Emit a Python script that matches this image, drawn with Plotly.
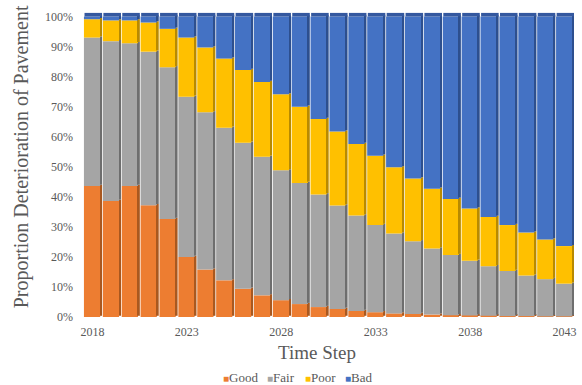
import plotly.graph_objects as go

years = list(range(2018, 2044))
good = [43.6, 38.6, 43.6, 37.2, 32.6, 20.0, 15.8, 12.2, 9.4, 7.2, 5.6, 4.3, 3.3,
        2.7, 2.0, 1.6, 1.2, 1.0, 0.8, 0.6, 0.5, 0.4, 0.3, 0.3, 0.2, 0.2]
fair = [49.4, 53.2, 47.5, 51.1, 50.5, 53.3, 52.3, 50.8, 48.6, 46.1, 43.2, 40.3, 37.5,
        34.4, 31.8, 29.0, 26.6, 24.2, 22.0, 20.0, 18.2, 16.5, 15.0, 13.5, 12.4, 10.9]
poor = [6.1, 6.9, 7.6, 9.7, 12.8, 19.7, 21.6, 23.0, 24.2, 24.9, 25.3, 25.4, 25.1,
        24.6, 23.8, 23.1, 22.0, 20.9, 19.9, 18.7, 17.4, 16.4, 15.3, 14.3, 13.2, 12.5]
bad = [0.9, 1.3, 1.3, 2.0, 4.1, 7.0, 10.3, 14.0, 17.8, 21.8, 25.9, 30.0, 34.1,
       38.3, 42.4, 46.3, 50.2, 53.9, 57.3, 60.7, 63.9, 66.7, 69.4, 71.9, 74.2, 76.4]

series_names = ["Good", "Fair", "Poor", "Bad"]
series_vals = [good, fair, poor, bad]
front_colors = ["#ED7D31", "#A5A5A5", "#FFC000", "#4472C4"]
side_colors = ["#A9581F", "#6E6E6E", "#B88A00", "#2D4F8E"]

fig = go.Figure()
base = [0.0] * len(years)
for name, vals, fc, sc in zip(series_names, series_vals, front_colors, side_colors):
    y = [v / 100 for v in vals]
    b = [v / 100 for v in base]
    fig.add_trace(go.Bar(x=years, y=y, base=b, name=name, marker_color=fc,
                         marker_line_width=0, offset=-0.45, width=0.86,
                         showlegend=False, hoverinfo="skip"))
    fig.add_trace(go.Bar(x=years, y=y, base=[bb + 0.004 for bb in b], name=name + " side",
                         marker_color=sc, marker_line_width=0, offset=0.41, width=0.1,
                         showlegend=False, hoverinfo="skip"))
    base = [a + v for a, v in zip(base, vals)]

# top faces of the 3D columns
fig.add_trace(go.Bar(x=years, y=[0.012] * len(years), base=[b / 100 for b in base],
                     marker_color="#34589F", marker_line_width=0, offset=-0.42, width=0.93,
                     showlegend=False, hoverinfo="skip"))

font_family = "Liberation Serif, Times New Roman, serif"
fig.update_layout(
    barmode="overlay",
    width=582, height=385,
    margin=dict(l=83, r=5, t=12, b=68),
    paper_bgcolor="white", plot_bgcolor="white",
    font=dict(family=font_family, color="#595959", size=12),
    xaxis=dict(range=[2017.5, 2043.5], tickvals=[2018, 2023, 2028, 2033, 2038, 2043],
               showgrid=False, zeroline=False, showline=False, ticks="",
               ticklabelstandoff=6, tickfont=dict(size=12, color="#595959")),
    yaxis=dict(range=[0, 1.015], tickvals=[i / 10 for i in range(11)], tickformat=".0%",
               showgrid=False, zeroline=False, showline=False, ticks="",
               ticklabelstandoff=9, tickfont=dict(size=12, color="#595959")),
    showlegend=False,
)

fig.add_annotation(text="Proportion Deterioration of Pavement", xref="paper", yref="paper",
                   x=-0.1255, y=0.525, textangle=-90, showarrow=False,
                   font=dict(size=20, color="#595959"), xanchor="center", yanchor="middle")

fig.add_annotation(text="Time Step", xref="paper", yref="paper", x=0.476, y=-0.115,
                   showarrow=False, font=dict(size=19, color="#595959"),
                   xanchor="center", yanchor="middle")

legend_px = [222, 266, 304, 345]
for n, c, px in zip(series_names, front_colors, legend_px):
    fig.add_annotation(text=f"<span style='color:{c};font-size:10px'>■</span>{n}",
                       xref="paper", yref="paper", x=(px - 83) / 494, y=-0.198,
                       showarrow=False, font=dict(size=13, color="#595959"),
                       xanchor="left", yanchor="middle")

fig.write_html("out.html")
